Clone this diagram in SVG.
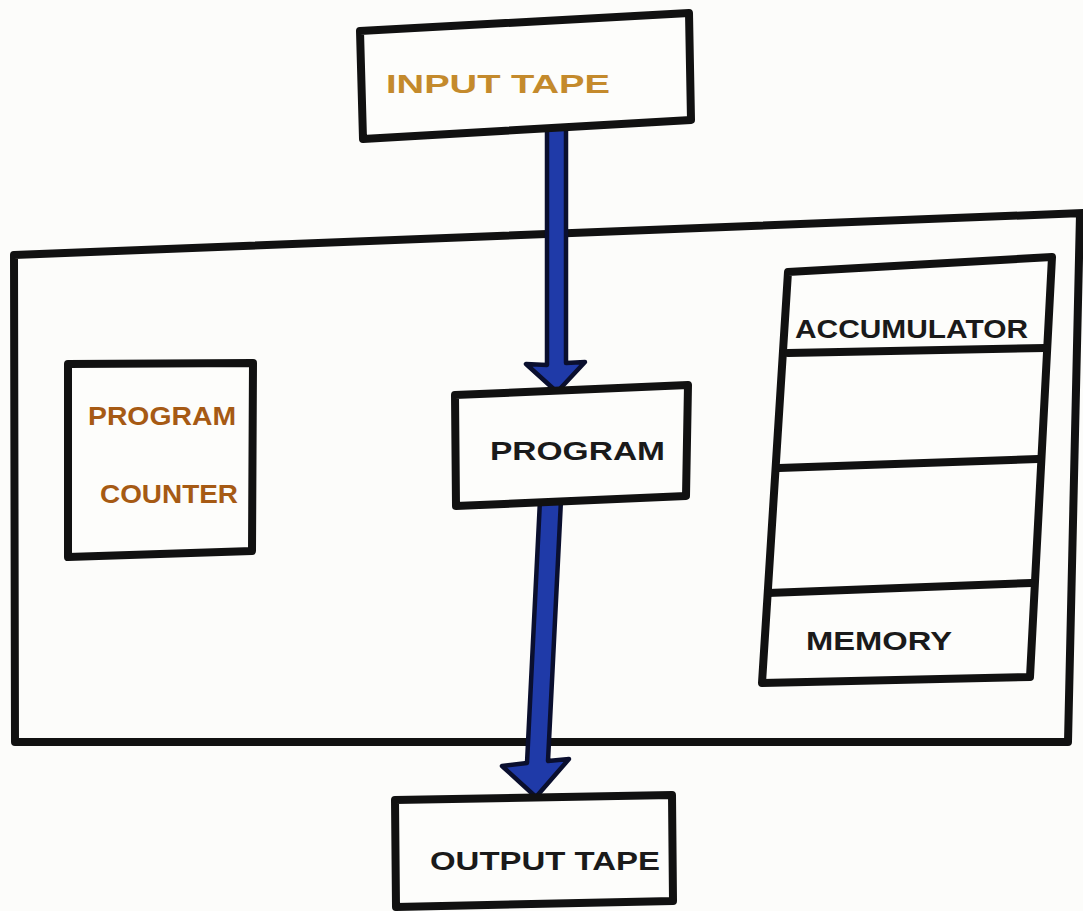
<svg xmlns="http://www.w3.org/2000/svg" width="1083" height="911" viewBox="0 0 1083 911">
  <style>
    .box { fill: none; stroke: #111; stroke-width: 8; stroke-linejoin: round; stroke-linecap: round; }
    .fillbox { fill: #fdfdfb; stroke: #111; stroke-width: 8; stroke-linejoin: round; stroke-linecap: round; }
    .div { stroke: #111; stroke-width: 8; stroke-linecap: round; }
    .lbl { font-family: "Liberation Sans", Arial, sans-serif; font-size: 25px; font-weight: bold; }
    .ink { fill: #1a1a1a; }
    .gold { fill: #c48a2c; }
    .brown { fill: #a65a14; }
    .arrow { fill: #1f3aa8; stroke: #0a0f2e; stroke-width: 4.5; stroke-linejoin: round; }
  </style>
  <rect x="0" y="0" width="1083" height="911" fill="#fcfcfa"/>

  <g id="machine">
    <path class="box" d="M14,255 L1083,213 M1080,214 L1068,742 M14,255 L15,742 L1068,742"/>
  </g>

  <g id="connectors">
    <polygon class="arrow" points="547,122 566,122 566,363 585,362 557,392 526,364 547,365"/>
    <polygon class="arrow" points="540,500 561,500 548,761 569,759 536,797 502,766 527,763"/>
  </g>

  <g id="input-tape">
    <polygon class="fillbox" points="360,31 689,13 691,120 363,139"/>
    <text class="lbl gold" x="386" y="93" textLength="224" lengthAdjust="spacingAndGlyphs">INPUT TAPE</text>
  </g>

  <g id="program-counter">
    <polygon class="fillbox" points="68,364 253,363 252,551 68,557"/>
    <text class="lbl brown" x="88" y="425" textLength="148" lengthAdjust="spacingAndGlyphs">PROGRAM</text>
    <text class="lbl brown" x="100" y="503" textLength="138" lengthAdjust="spacingAndGlyphs">COUNTER</text>
  </g>

  <g id="program">
    <polygon class="fillbox" points="455,395 688,385 686,496 456,506"/>
    <text class="lbl ink" x="490" y="460" textLength="175" lengthAdjust="spacingAndGlyphs">PROGRAM</text>
  </g>

  <g id="memory">
    <polygon class="fillbox" points="788,272 1052,257 1030,677 762,683"/>
    <line class="div" x1="788" y1="353" x2="1045" y2="348"/>
    <line class="div" x1="779" y1="468" x2="1038" y2="459"/>
    <line class="div" x1="768" y1="593" x2="1031" y2="583"/>
    <text class="lbl ink" x="795" y="338" textLength="233" lengthAdjust="spacingAndGlyphs">ACCUMULATOR</text>
    <text class="lbl ink" x="806" y="650" textLength="146" lengthAdjust="spacingAndGlyphs">MEMORY</text>
  </g>

  <g id="output-tape">
    <polygon class="fillbox" points="395,800 672,795 673,901 396,907"/>
    <text class="lbl ink" x="430" y="870" textLength="230" lengthAdjust="spacingAndGlyphs">OUTPUT TAPE</text>
  </g>
</svg>
